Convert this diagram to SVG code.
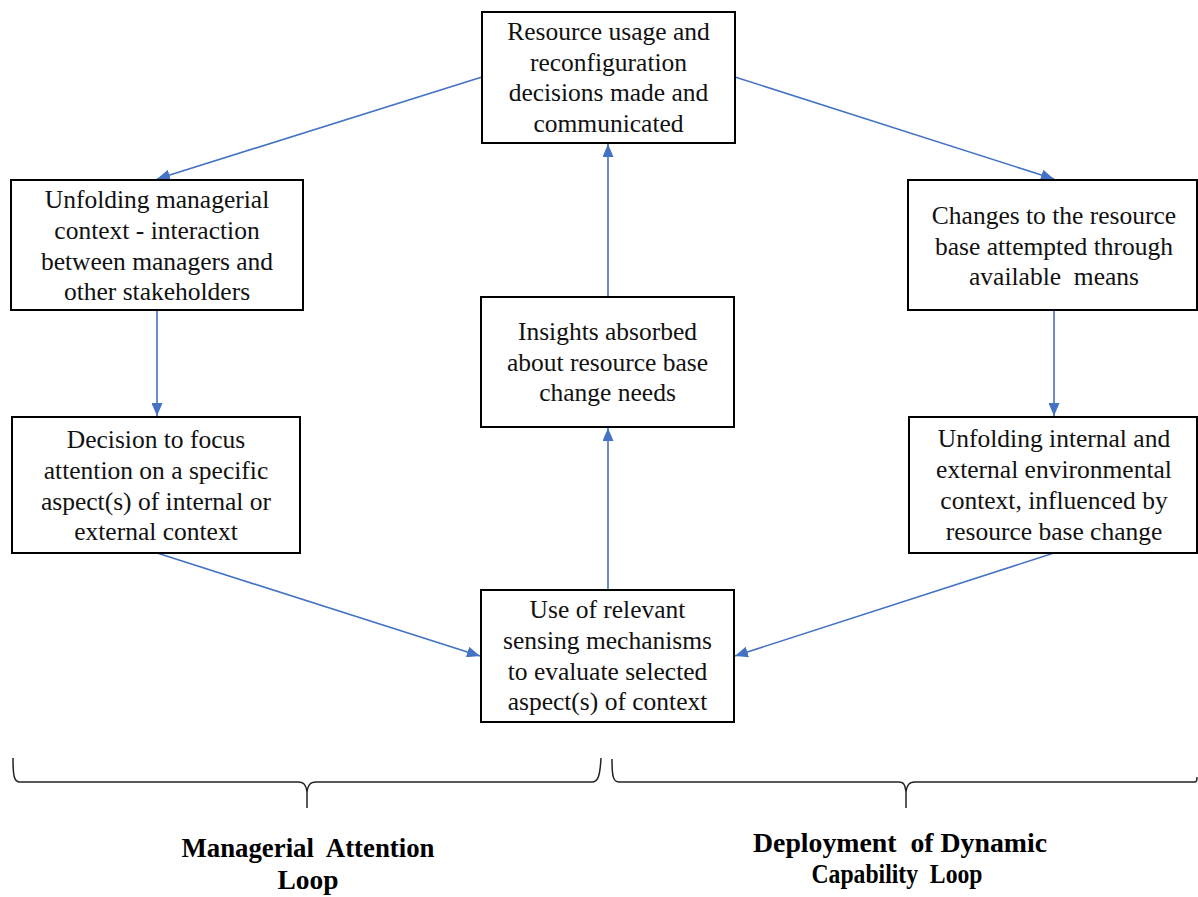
<svg xmlns="http://www.w3.org/2000/svg" width="1198" height="897" viewBox="0 0 1198 897">
  <style>
    .box { fill: #ffffff; stroke: #000000; stroke-width: 2; }
    .t { font-family: "Liberation Serif", "Times New Roman", serif; font-size: 25.5px; fill: #111111; text-anchor: middle; }
    .lbl { font-family: "Liberation Serif", "Times New Roman", serif; font-size: 27px; font-weight: bold; fill: #000000; text-anchor: middle; }
    .conn { stroke: #4472C4; stroke-width: 1.6; fill: none; marker-end: url(#arr); }
    .brace { stroke: #222222; stroke-width: 1.5; fill: none; }
  </style>
  <defs>
    <marker id="arr" markerUnits="userSpaceOnUse" markerWidth="13" markerHeight="11" refX="13" refY="5.5" orient="auto">
      <path d="M0,0 L13,5.5 L0,11 z" fill="#4472C4"/>
    </marker>
  </defs>
  <rect width="1198" height="897" fill="#ffffff"/>

  <g id="connectors">
    <line class="conn" x1="482" y1="77" x2="157" y2="179"/>
    <line class="conn" x1="735" y1="77" x2="1054" y2="179"/>
    <line class="conn" x1="157" y1="310" x2="157" y2="416"/>
    <line class="conn" x1="1054" y1="310" x2="1054" y2="416"/>
    <line class="conn" x1="157" y1="553" x2="480" y2="656"/>
    <line class="conn" x1="1054" y1="553" x2="735" y2="656"/>
    <line class="conn" x1="608" y1="590" x2="608" y2="428"/>
    <line class="conn" x1="608" y1="297" x2="608" y2="144"/>
  </g>

  <g id="node-decisions">
    <rect class="box" x="482" y="12" width="253" height="131"/>
    <text class="t" x="608.5" y="40">Resource usage and</text>
    <text class="t" x="608.5" y="71">reconfiguration</text>
    <text class="t" x="608.5" y="101">decisions made and</text>
    <text class="t" x="608.5" y="132">communicated</text>
  </g>

  <g id="node-managerial-context">
    <rect class="box" x="11" y="180" width="292" height="130"/>
    <text class="t" x="157" y="208">Unfolding managerial</text>
    <text class="t" x="157" y="239">context - interaction</text>
    <text class="t" x="157" y="270">between managers and</text>
    <text class="t" x="157" y="300">other stakeholders</text>
  </g>

  <g id="node-focus-decision">
    <rect class="box" x="12" y="417" width="288" height="136"/>
    <text class="t" x="156" y="448">Decision to focus</text>
    <text class="t" x="156" y="479">attention on a specific</text>
    <text class="t" x="156" y="510">aspect(s) of internal or</text>
    <text class="t" x="156" y="540">external context</text>
  </g>

  <g id="node-changes">
    <rect class="box" x="908" y="180" width="289" height="130"/>
    <text class="t" x="1054" y="224">Changes to the resource</text>
    <text class="t" x="1054" y="255">base attempted through</text>
    <text class="t" x="1054" y="285" xml:space="preserve">available  means</text>
  </g>

  <g id="node-environment">
    <rect class="box" x="909" y="417" width="288" height="136"/>
    <text class="t" x="1054" y="447">Unfolding internal and</text>
    <text class="t" x="1054" y="478">external environmental</text>
    <text class="t" x="1054" y="509">context, influenced by</text>
    <text class="t" x="1054" y="540">resource base change</text>
  </g>

  <g id="node-insights">
    <rect class="box" x="481" y="297" width="253" height="130"/>
    <text class="t" x="607.5" y="340">Insights absorbed</text>
    <text class="t" x="607.5" y="371">about resource base</text>
    <text class="t" x="607.5" y="401">change needs</text>
  </g>

  <g id="node-sensing">
    <rect class="box" x="481" y="590" width="253" height="132"/>
    <text class="t" x="607.5" y="618">Use of relevant</text>
    <text class="t" x="607.5" y="649">sensing mechanisms</text>
    <text class="t" x="607.5" y="680">to evaluate selected</text>
    <text class="t" x="607.5" y="710">aspect(s) of context</text>
  </g>

  <g id="brace-managerial">
    <path class="brace" d="M13,758 C13,776 14,782 20,782 L298,782 C304,782 306,785 307,792 L307,808 M307,792 C308,785 310,782 316,782 L592,782 C598,782 600,776 601,758"/>
    <text class="lbl" x="308" y="857" textLength="253" lengthAdjust="spacingAndGlyphs" xml:space="preserve">Managerial  Attention</text>
    <text class="lbl" x="308" y="889" textLength="61" lengthAdjust="spacingAndGlyphs">Loop</text>
  </g>

  <g id="brace-dynamic">
    <path class="brace" d="M612,759 C612,776 613,782 619,782 L899,782 C904,782 905,785 906,792 L906,808 M906,792 C907,785 909,782 915,782 L1195,782 C1197,782 1197,780 1197,777"/>
    <text class="lbl" x="900" y="852" textLength="294" lengthAdjust="spacingAndGlyphs" xml:space="preserve">Deployment  of Dynamic</text>
    <text class="lbl" x="897" y="883" textLength="171" lengthAdjust="spacingAndGlyphs" xml:space="preserve">Capability  Loop</text>
  </g>
</svg>
